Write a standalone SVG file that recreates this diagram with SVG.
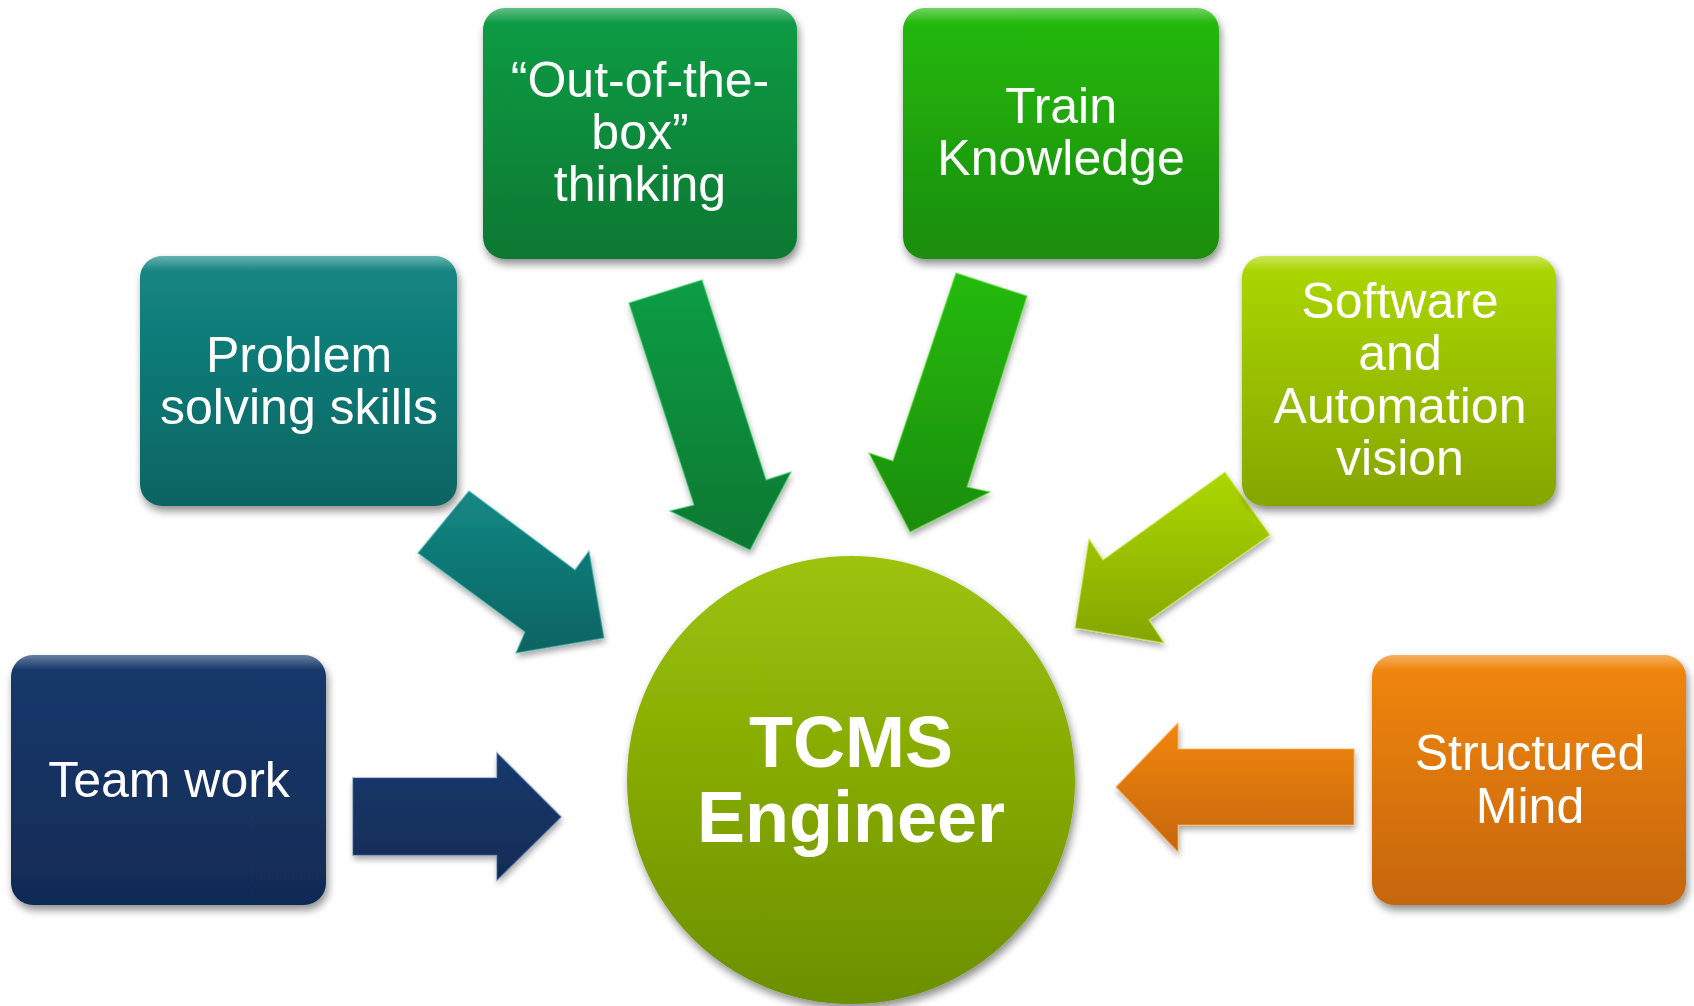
<svg xmlns="http://www.w3.org/2000/svg" width="1694" height="1006" viewBox="0 0 1694 1006">
<defs>
<style>
.lbl{font-family:"Liberation Sans",Arial,sans-serif;font-size:50px;fill:#ffffff;text-anchor:middle}
.big{font-family:"Liberation Sans",Arial,sans-serif;font-size:72px;font-weight:bold;fill:#ffffff;text-anchor:middle}
.box{filter:url(#sh)}
.arr{filter:url(#sh2);stroke-width:1.5;stroke-opacity:0.5}
</style>
<filter id="sh" x="-10%" y="-10%" width="120%" height="125%">
<feGaussianBlur in="SourceAlpha" stdDeviation="4"/>
<feOffset dx="2" dy="5" result="b"/>
<feComponentTransfer><feFuncA type="linear" slope="0.45"/></feComponentTransfer>
<feMerge><feMergeNode/><feMergeNode in="SourceGraphic"/></feMerge>
</filter>
<filter id="sh2" x="-10%" y="-10%" width="120%" height="125%">
<feGaussianBlur in="SourceAlpha" stdDeviation="3"/>
<feOffset dx="1" dy="4" result="b"/>
<feComponentTransfer><feFuncA type="linear" slope="0.35"/></feComponentTransfer>
<feMerge><feMergeNode/><feMergeNode in="SourceGraphic"/></feMerge>
</filter>
<linearGradient id="gNavy" x1="0" y1="0" x2="0" y2="1"><stop offset="0" stop-color="#17396c"/><stop offset="1" stop-color="#112b55"/></linearGradient>
<linearGradient id="gTeal" x1="0" y1="0" x2="0" y2="1"><stop offset="0" stop-color="#138884"/><stop offset="1" stop-color="#0c6462"/></linearGradient>
<linearGradient id="gGreen" x1="0" y1="0" x2="0" y2="1"><stop offset="0" stop-color="#0b9d45"/><stop offset="1" stop-color="#097832"/></linearGradient>
<linearGradient id="gLime" x1="0" y1="0" x2="0" y2="1"><stop offset="0" stop-color="#25bb0c"/><stop offset="1" stop-color="#1b8c09"/></linearGradient>
<linearGradient id="gYel" x1="0" y1="0" x2="0" y2="1"><stop offset="0" stop-color="#acd806"/><stop offset="1" stop-color="#85a503"/></linearGradient>
<linearGradient id="gOr" x1="0" y1="0" x2="0" y2="1"><stop offset="0" stop-color="#f2870f"/><stop offset="1" stop-color="#c5660a"/></linearGradient>
<linearGradient id="gCirc" x1="0" y1="0" x2="0" y2="1"><stop offset="0" stop-color="#9dc308"/><stop offset="1" stop-color="#6c8f03"/></linearGradient>
<linearGradient id="gHi" x1="0" y1="0" x2="0" y2="1"><stop offset="0" stop-color="#ffffff" stop-opacity="0.35"/><stop offset="0.06" stop-color="#ffffff" stop-opacity="0"/></linearGradient>
</defs>
<rect width="1694" height="1006" fill="#ffffff"/>

<g id="connectors">
<polygon class="arr" fill="url(#gNavy)" stroke="#3b62a0" points="353,778 497,778 497,753 561,817 497,880 497,855 353,855"/>
<polygon class="arr" fill="url(#gOr)" stroke="#ffb050" points="1354,749 1178,749 1178,723 1116,787 1178,852 1178,825 1354,825"/>
<polygon class="arr" fill="url(#gTeal)" stroke="#3fb8b0" points="469,491 575,570 589,551 604,638 516,653 525,632 418,553"/>
<polygon class="arr" fill="url(#gGreen)" stroke="#40d070" points="629,303 694,505 670,511 750,550 791,472 766,480 702,280"/>
<polygon class="arr" fill="url(#gLime)" stroke="#60e040" points="956,273 893,461 869,453 910,532 990,492 967,487 1027,296"/>
<polygon class="arr" fill="url(#gYel)" stroke="#d8f050" points="1225,472 1103,560 1089,539 1075,628 1164,643 1149,620 1270,535"/>
</g>

<g id="center">
<circle class="box" cx="851" cy="780" r="224" fill="url(#gCirc)"/>
<text class="big" x="851" y="767">TCMS</text>
<text class="big" x="851" y="842">Engineer</text>
</g>

<g id="team-work">
<rect class="box" x="11" y="655" width="315" height="250" rx="22" fill="url(#gNavy)"/>
<rect x="11" y="655" width="315" height="250" rx="22" fill="url(#gHi)"/>
<text class="lbl" x="169" y="797">Team work</text>
</g>

<g id="problem-solving">
<rect class="box" x="140" y="256" width="317" height="250" rx="22" fill="url(#gTeal)"/>
<rect x="140" y="256" width="317" height="250" rx="22" fill="url(#gHi)"/>
<text class="lbl" x="299" y="372">Problem</text>
<text class="lbl" x="299" y="424">solving skills</text>
</g>

<g id="out-of-the-box">
<rect class="box" x="483" y="8" width="314" height="251" rx="22" fill="url(#gGreen)"/>
<rect x="483" y="8" width="314" height="251" rx="22" fill="url(#gHi)"/>
<text class="lbl" x="640" y="97">“Out-of-the-</text>
<text class="lbl" x="640" y="149">box”</text>
<text class="lbl" x="640" y="201">thinking</text>
</g>

<g id="train-knowledge">
<rect class="box" x="903" y="8" width="316" height="251" rx="22" fill="url(#gLime)"/>
<rect x="903" y="8" width="316" height="251" rx="22" fill="url(#gHi)"/>
<text class="lbl" x="1061" y="123">Train</text>
<text class="lbl" x="1061" y="175">Knowledge</text>
</g>

<g id="software-automation">
<rect class="box" x="1242" y="256" width="314" height="250" rx="22" fill="url(#gYel)"/>
<rect x="1242" y="256" width="314" height="250" rx="22" fill="url(#gHi)"/>
<text class="lbl" x="1400" y="318">Software</text>
<text class="lbl" x="1400" y="370">and</text>
<text class="lbl" x="1400" y="423">Automation</text>
<text class="lbl" x="1400" y="475">vision</text>
</g>

<g id="structured-mind">
<rect class="box" x="1372" y="655" width="314" height="250" rx="22" fill="url(#gOr)"/>
<rect x="1372" y="655" width="314" height="250" rx="22" fill="url(#gHi)"/>
<text class="lbl" x="1530" y="770">Structured</text>
<text class="lbl" x="1530" y="823">Mind</text>
</g>
</svg>
